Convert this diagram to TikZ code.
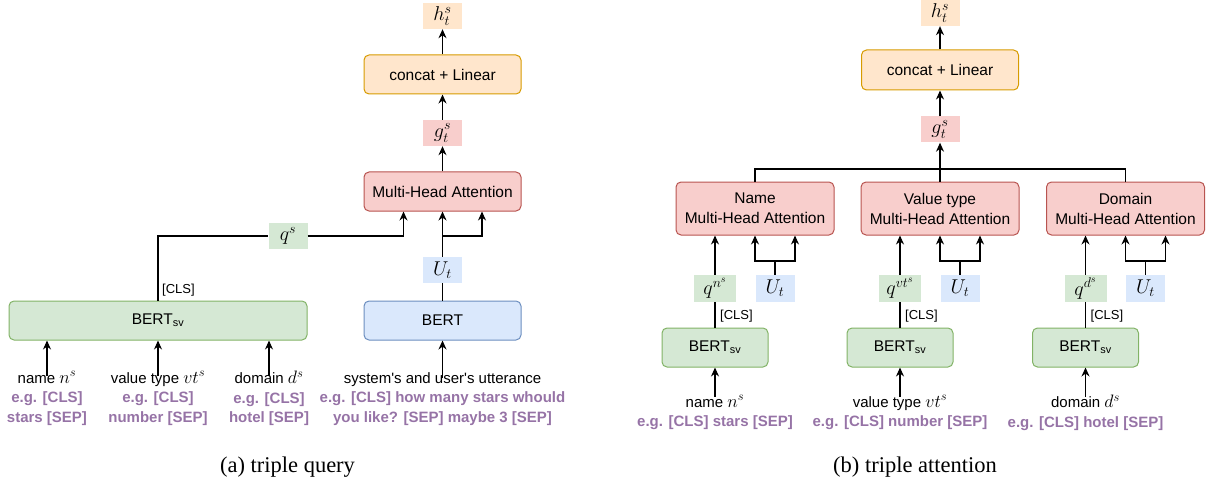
\RequirePackage{fix-cm}
\documentclass[tikz,border=0pt]{standalone}
\usepackage{fontspec}
\setmainfont{Liberation Sans}
\newfontfamily\capfont{Liberation Serif}
\usetikzlibrary{arrows.meta}
\definecolor{redfill}{HTML}{F8CECC}
\definecolor{redline}{HTML}{B85450}
\definecolor{grnfill}{HTML}{D5E8D4}
\definecolor{grnline}{HTML}{82B366}
\definecolor{bluefill}{HTML}{DAE8FC}
\definecolor{blueline}{HTML}{6C8EBF}
\definecolor{orfill}{HTML}{FFE6CC}
\definecolor{orline}{HTML}{D79B00}
\definecolor{purp}{HTML}{9673A6}
\newcommand\fs[2]{\fontsize{#1}{#2}\selectfont}
\newcommand\eg[1]{{\color{purp}\bfseries #1}}
\newcommand\mm[1]{{\fs{18}{19.5}$#1$}}
\tikzset{
  box/.style={draw, rounded corners=5pt, line width=1pt, minimum width=157pt, minimum height=39pt, inner sep=0pt, align=center, font=\fs{15.5}{20}},
  redbox/.style={box, fill=redfill, draw=redline},
  grnbox/.style={box, fill=grnfill, draw=grnline},
  bluebox/.style={box, fill=bluefill, draw=blueline},
  orbox/.style={box, fill=orfill, draw=orline},
  tag/.style={minimum width=39pt, minimum height=26pt, inner sep=0pt, font=\fs{20}{22}},
  arr/.style={-{Stealth[length=9pt,width=8pt]}, line width=1.2pt},
  ln/.style={line width=1.2pt},
  lbl/.style={anchor=north, inner sep=0pt, align=center, font=\fs{15}{19.5}},
  clstext/.style={anchor=west, inner sep=0pt, font=\fs{13}{15}},
  captext/.style={inner sep=0pt, font=\capfont\fs{22.5}{26}},
}
\begin{document}
\begin{tikzpicture}[x=1pt,y=-1pt]
\useasboundingbox (0,0) rectangle (1213,484);
% ---------------- (a) triple query ----------------
\node[tag, fill=orfill] (hA) at (442.5,16) {$h_t^s$};
\node[orbox] (catA) at (442.5,74.5) {concat + Linear};
\node[tag, fill=redfill] (gA) at (442.5,133) {$g_t^s$};
\node[redbox] (mhaA) at (442.5,191.5) {Multi-Head Attention};
\node[tag, fill=grnfill] (qA) at (288,236) {$q^s$};
\node[tag, fill=bluefill] (UA) at (442.5,270) {$U_t$};
\node[grnbox, minimum width=298pt] (bsvA) at (158,320.5) {BERT\textsubscript{sv}};
\node[bluebox] (bertA) at (442.5,320.5) {BERT};
\node[clstext] (clsA) at (162,290) {[CLS]};
\coordinate (jA) at (442.5,236);

\node[lbl] (nameA) at (47,371) {name \mm{n^s}\\ \eg{e.g. [CLS]}\\ \eg{stars [SEP]}};
\node[lbl] (vtA) at (158,371) {value type \mm{vt^s}\\ \eg{e.g. [CLS]}\\ \eg{number [SEP]}};
\node[lbl] (domA) at (269,371) {domain \mm{d^s}\\ \eg{e.g. [CLS]}\\ \eg{hotel [SEP]}};
\node[lbl] (uttA) at (442.5,372) {system\textquotesingle s and user\textquotesingle s utterance\\ \eg{e.g. [CLS] how many stars whould}\\ \eg{you like? [SEP] maybe 3 [SEP]}};

\draw[arr] (catA) -- (hA);
\draw[arr] (gA) -- (catA);
\draw[arr] (mhaA) -- (gA);
\draw[ln] (bsvA.north) |- (qA.west);
\draw[arr] (qA.east) -| ([xshift=-39pt]mhaA.south);
\draw[ln] (bertA) -- (UA);
\draw[arr] (UA) -- (mhaA);
\draw[arr] (jA) -| ([xshift=39.5pt]mhaA.south);
\foreach \n in {nameA,vtA,domA}{
  \draw[arr] ([yshift=-5pt]\n.north) -- (\n.north |- bsvA.south);
}
\draw[arr] ([yshift=-6pt]uttA.north) -- (bertA.south);
\node[captext] (capA) at (287.5,467) {(a) triple query};

% ---------------- (b) triple attention ----------------
\node[tag, fill=orfill] (hB) at (940,13) {$h_t^s$};
\node[orbox, minimum height=40pt] (catB) at (940,70) {concat + Linear};
\node[tag, fill=redfill] (gB) at (940,129.5) {$g_t^s$};
\foreach \k/\x/\ttl/\q/\lab/\eglab in {
   1/755/Name/{q^{n^s}}/{name \mm{n^s}}/{e.g. [CLS] stars [SEP]},
   2/940/Value type/{q^{vt^s}}/{value type \mm{vt^s}}/{e.g. [CLS] number [SEP]},
   3/1125.5/Domain/{q^{d^s}}/{domain \mm{d^s}}/{e.g. [CLS] hotel [SEP]}}{
  \node[redbox, minimum width=158pt, minimum height=53pt] (mha\k) at (\x,208.5) {\ttl\\Multi-Head Attention};
  \node[tag, fill=grnfill, minimum width=42pt, minimum height=27pt] (q\k) at (\x-40,288.5) {$\q$};
  \node[tag, fill=bluefill, minimum height=27pt] (U\k) at (\x+20,288.5) {$U_t$};
  \node[grnbox, minimum width=106pt] (bsv\k) at (\x-40,347.5) {BERT\textsubscript{sv}};
  \node[clstext] (cls\k) at (\x-35,316) {[CLS]};
  \node[lbl] (in\k) at (\x-40,395) {\lab\\ \eg{\eglab}};
  \coordinate (j\k) at (\x+20,261);
  \coordinate (top\k) at (\x,169);
  \draw[ln] (bsv\k) -- (q\k);
  \draw[arr] (q\k) -- (q\k |- mha\k.south);
  \draw[ln] (U\k) -- (j\k);
  \draw[arr] (j\k) -| ([xshift=0pt]mha\k.south);
  \draw[arr] (j\k) -| ([xshift=40pt]mha\k.south);
  \draw[arr] ([yshift=-2pt]in\k.north) -- (bsv\k.south);
}
\draw[ln] (mha1.north) -- (top1) -- (top3) -- (mha3.north);
\draw[arr] (mha2.north) -- (gB);
\draw[arr] (gB) -- (catB);
\draw[arr] (catB) -- (hB);
\node[captext] (capB) at (915,467) {(b) triple attention};
\end{tikzpicture}
\end{document}
